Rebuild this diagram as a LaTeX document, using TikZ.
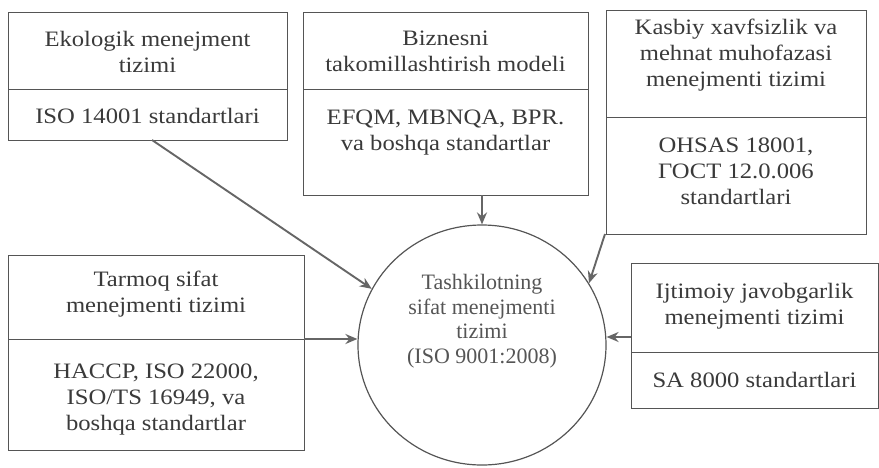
\documentclass[tikz,border=0pt]{standalone}
\usepackage{fontspec}
\setmainfont{Liberation Serif}[FakeStretch=1.12]
\newfontfamily\circfont{Liberation Serif}
\usetikzlibrary{arrows.meta,shapes.geometric}
\definecolor{ln}{HTML}{555555}
\definecolor{tx}{HTML}{3a3a3a}
\definecolor{ct}{HTML}{555555}
\begin{document}
\begin{tikzpicture}[x=1pt,y=-1pt,
  part/.style={draw=ln, line width=1.1pt, anchor=north west, inner sep=0pt, fill=white},
  txt/.style={text=tx, align=center, inner sep=0pt, font=\fontsize{22}{26}\selectfont},
  ctxt/.style={text=ct, align=center, inner sep=0pt, font=\circfont\fontsize{22}{24.5}\selectfont},
  arr/.style={draw=ln!90, line width=1.9pt, -{Stealth[length=12pt,width=10pt]}}]
\useasboundingbox (0,0) rectangle (879,467);
% box 1
\node[part, minimum width=279pt, minimum height=77pt] (b1t) at (8,12) {};
\node[part, minimum width=279pt, minimum height=51pt] (b1b) at (8,89) {};
\node[txt] (t1a) at (147.5,52) {Ekologik menejment\\tizimi};
\node[txt] (t1b) at (147.5,116) {ISO 14001 standartlari};
% box 2
\node[part, minimum width=285pt, minimum height=77pt] (b2t) at (303,12) {};
\node[part, minimum width=285pt, minimum height=106pt] (b2b) at (303,89) {};
\node[txt] (t2a) at (445.5,51) {Biznesni\\takomillashtirish modeli};
\node[txt] (t2b) at (445.5,133) {EFQM, MBNQA, BPR.\\va boshqa standartlar};
% box 3
\node[part, minimum width=260pt, minimum height=107pt] (b3t) at (606,10) {};
\node[part, minimum width=260pt, minimum height=117pt] (b3b) at (606,117) {};
\node[txt] (t3a) at (736,55) {Kasbiy xavfsizlik va\\mehnat muhofazasi\\menejmenti tizimi};
\node[txt] (t3b) at (736,171) {OHSAS 18001,\\ГОСТ 12.0.006\\standartlari};
% box 4
\node[part, minimum width=296pt, minimum height=84pt] (b4t) at (8,255) {};
\node[part, minimum width=296pt, minimum height=111pt] (b4b) at (8,339) {};
\node[txt] (t4a) at (156,294) {Tarmoq sifat\\menejmenti tizimi};
\node[txt] (t4b) at (156,400) {HACCP, ISO 22000,\\ISO/TS 16949, va\\boshqa standartlar};
% box 6
\node[part, minimum width=247pt, minimum height=89pt] (b6t) at (631,263) {};
\node[part, minimum width=247pt, minimum height=56pt] (b6b) at (631,352) {};
\node[txt] (t6a) at (754.5,306) {Ijtimoiy javobgarlik\\menejmenti tizimi};
\node[txt] (t6b) at (754.5,380) {SA 8000 standartlari};
% circle
\node[draw=ln, line width=1.2pt, ellipse, minimum width=248pt, minimum height=240pt, inner sep=0pt] (circ) at (482,345) {};
\node[ctxt] (tc) at (482,321) {Tashkilotning\\sifat menejmenti\\tizimi\\(ISO 9001:2008)};
% arrows
\coordinate (s1) at (152,140);
\coordinate (s2) at (482,195);
\coordinate (s3) at (605,234);
\coordinate (s4) at (304,339);
\coordinate (s5) at (631,337);
\draw[arr] (s1) -- (circ.153);
\draw[arr] (s2) -- (circ.north);
\draw[arr] (s3) -- (circ.30);
\draw[arr] (s4) -- (s4 -| circ.west);
\draw[arr] (s5) -- (s5 -| circ.east);
\end{tikzpicture}
\end{document}
